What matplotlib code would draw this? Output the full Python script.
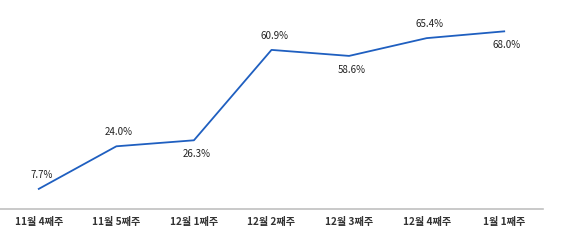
import matplotlib
matplotlib.use("Agg")
import matplotlib.pyplot as plt

categories = ["11월 4째주", "11월 5째주", "12월 1째주", "12월 2째주", "12월 3째주", "12월 4째주", "1월 1째주"]
values = [7.7, 24.0, 26.3, 60.9, 58.6, 65.4, 68.0]
label_pos = ["above", "above", "below", "above", "below", "above", "below"]

plt.rcParams['font.family'] = ['Noto Sans CJK KR', 'DejaVu Sans']

fig = plt.figure(figsize=(5.67, 2.42), dpi=100)
ax = fig.add_axes([0.0, 33/242, 543/567, 209/242])
x = list(range(len(categories)))
ax.plot(x, values, color="#1f5fc0", linewidth=1.3)
for xi, v, p in zip(x, values, label_pos):
    off = 10 if p == "above" else -10
    ax.annotate(f"{v:.1f}%", (xi, v), xytext=(2, off), textcoords="offset points",
                ha="center", va="center", fontsize=7, color="#222222")
ax.set_xlim(-0.5, 6.5)
ax.set_ylim(0, 80)
ax.set_xticks(x)
ax.set_xticklabels(categories, fontsize=7.3, fontweight="bold", color="#333333")
ax.tick_params(axis="x", length=0, pad=6)
ax.set_yticks([])
for s in ["top", "right", "left"]:
    ax.spines[s].set_visible(False)
ax.spines["bottom"].set_color("#c0c0c0")
ax.spines["bottom"].set_linewidth(1.2)
fig.savefig("out.png", dpi=100)
